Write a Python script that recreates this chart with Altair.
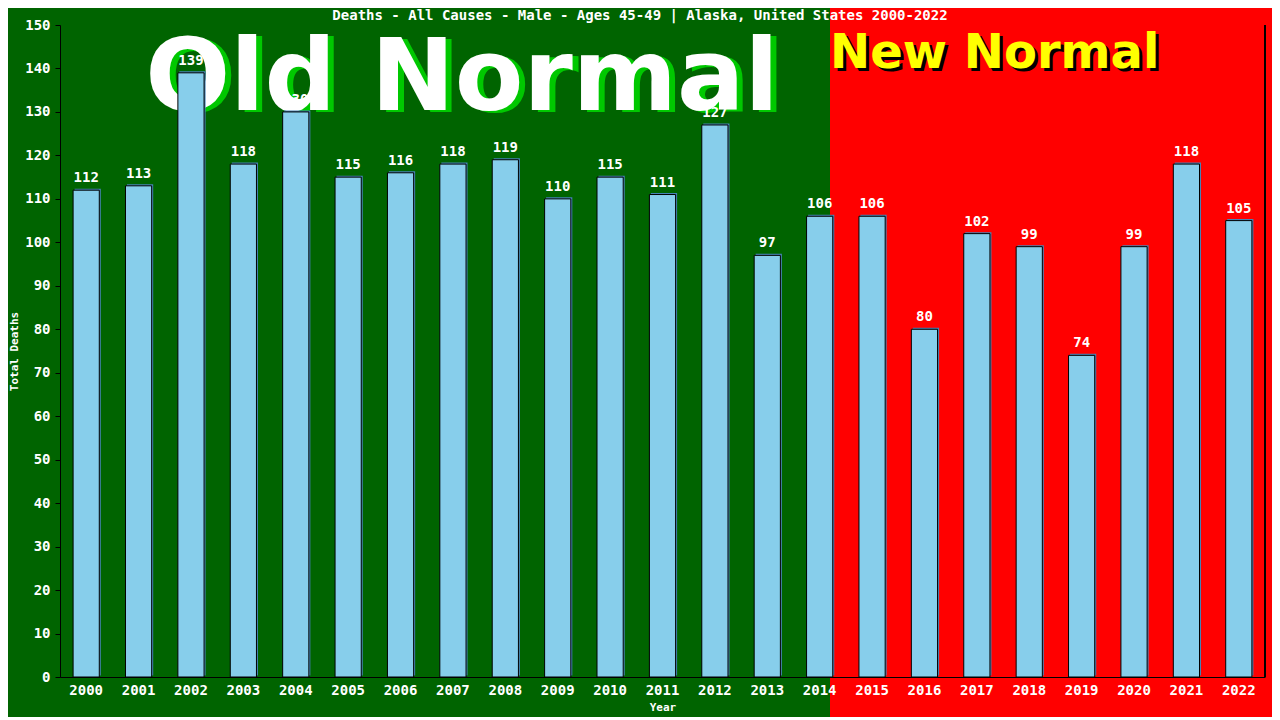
import altair as alt
import pandas as pd

years = [str(y) for y in range(2000, 2023)]
deaths = [112, 113, 139, 118, 130, 115, 116, 118, 119, 110, 115, 111, 127, 97,
          106, 106, 80, 102, 99, 74, 99, 118, 105]
title_text = "Deaths - All Causes - Male - Ages 45-49 | Alaska, United States 2000-2022"
old_label = "Old Normal"
new_label = "New Normal"

df = pd.DataFrame({"Year": years, "Deaths": deaths})

W, H = 1205, 652
MONO = "DejaVu Sans Mono"
SANS = "DejaVu Sans"

xenc = alt.X("Year:N", sort=years,
             scale=alt.Scale(paddingInner=0.5, paddingOuter=0.25),
             axis=alt.Axis(title="Year", labelAngle=0, ticks=False, labelPadding=6,
                           labelFont=MONO, labelFontSize=14, labelColor="white",
                           labelFontWeight="bold",
                           titleFont=MONO, titleFontSize=11, titleColor="white",
                           titleFontWeight="bold", titlePadding=4,
                           domainColor="black", domainWidth=1, zindex=1))
yenc = alt.Y("Deaths:Q", scale=alt.Scale(domain=[0, 150], nice=False),
             axis=alt.Axis(title="Total Deaths", values=list(range(0, 151, 10)),
                           grid=False, tickSize=5, tickColor="black", labelPadding=5,
                           labelFont=MONO, labelFontSize=14, labelColor="white",
                           labelFontWeight="bold",
                           titleFont=MONO, titleFontSize=11, titleColor="white",
                           titleFontWeight="bold", titlePadding=5,
                           domainColor="black", domainWidth=1, zindex=1))

green_bg = alt.Chart(df).mark_rect(color="#006400").encode(
    x=alt.value(-60), x2=alt.value(770), y=alt.value(-30), y2=alt.value(720))

shadow = alt.Chart(df).mark_bar(color="#4682B4", xOffset=1.5, yOffset=-1.5).encode(
    x=xenc, y=yenc)
bars = alt.Chart(df).mark_bar(color="#87CEEB", stroke="black", strokeWidth=1).encode(
    x=xenc, y=yenc)
labels = alt.Chart(df).mark_text(font=MONO, fontSize=14, fontWeight="bold", color="white",
                                 baseline="bottom", dy=-5).encode(
    x=alt.X("Year:N", sort=years), y="Deaths:Q", text="Deaths:Q")

border = alt.Chart(df).mark_rule(color="black", strokeWidth=1).encode(
    x=alt.value(W), y=alt.value(0), y2=alt.value(H))

def one(t):
    return pd.DataFrame({"t": [t]})

title_mark = alt.Chart(one(title_text)).mark_text(
    font=MONO, fontSize=14, fontWeight="bold", color="white",
    align="center", baseline="middle").encode(
    x=alt.value(580), y=alt.value(-9), text="t:N")

old_shadow = alt.Chart(one(old_label)).mark_text(
    font=SANS, fontSize=100, fontWeight="bold", color="#00C800",
    align="center", baseline="alphabetic").encode(
    x=alt.value(408), y=alt.value(87), text="t:N")
old_text = alt.Chart(one(old_label)).mark_text(
    font=SANS, fontSize=100, fontWeight="bold", color="white",
    align="center", baseline="alphabetic").encode(
    x=alt.value(402), y=alt.value(85), text="t:N")

new_shadow = alt.Chart(one(new_label)).mark_text(
    font=SANS, fontSize=48, fontWeight="bold", color="black",
    align="left", baseline="alphabetic").encode(
    x=alt.value(773), y=alt.value(46), text="t:N")
new_text = alt.Chart(one(new_label)).mark_text(
    font=SANS, fontSize=48, fontWeight="bold", color="#FFFF00",
    align="left", baseline="alphabetic").encode(
    x=alt.value(770), y=alt.value(43), text="t:N")

chart = alt.layer(
    green_bg, old_shadow, old_text, new_shadow, new_text, shadow, bars, labels, border,
    title_mark
).properties(
    width=W, height=H,
    background="#FF0000",
    padding={"left": 52, "top": 17, "right": 7, "bottom": 40},
    autosize=alt.AutoSizeParams(type="none"),
).configure_view(stroke=None)

chart.save("out.html", embed_options={"renderer": "svg", "actions": False})
